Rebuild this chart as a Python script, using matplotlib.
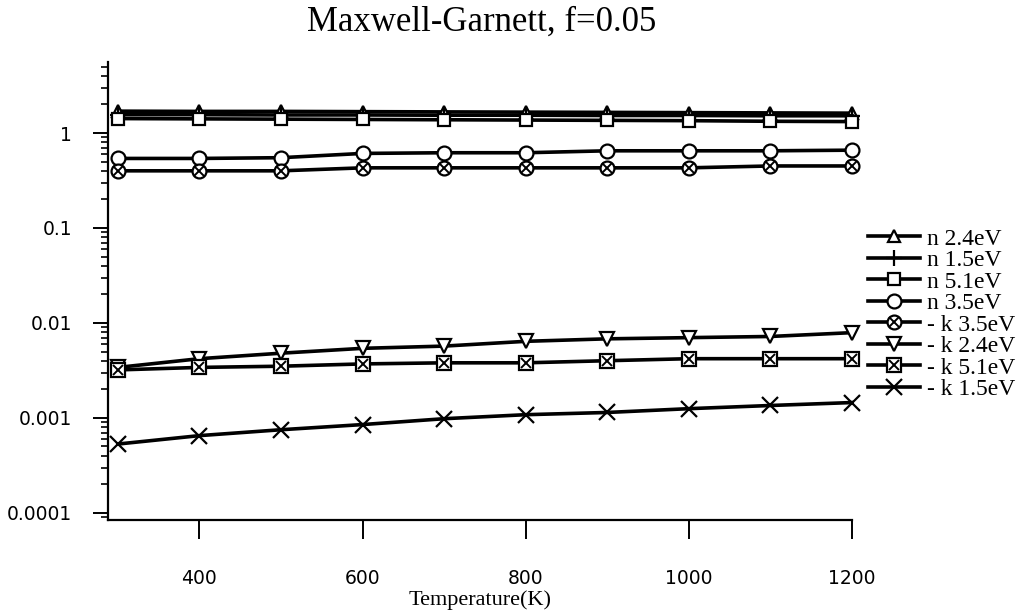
import numpy as np
import matplotlib
matplotlib.use("Agg")
import matplotlib.pyplot as plt
from matplotlib.ticker import FixedLocator, LogLocator, NullFormatter
from matplotlib.legend_handler import HandlerTuple

# --- données ---
T = [300, 400, 500, 600, 700, 800, 900, 1000, 1100, 1200]

n_24 = [1.70, 1.69, 1.69, 1.68, 1.67, 1.66, 1.65, 1.64, 1.63, 1.62]
n_15 = [1.56, 1.56, 1.55, 1.55, 1.54, 1.54, 1.53, 1.53, 1.52, 1.52]
n_51 = [1.42, 1.41, 1.40, 1.39, 1.38, 1.37, 1.36, 1.35, 1.33, 1.32]
n_35 = [0.54, 0.54, 0.55, 0.61, 0.62, 0.62, 0.65, 0.65, 0.65, 0.66]
k_35 = [0.40, 0.40, 0.40, 0.43, 0.43, 0.43, 0.43, 0.43, 0.45, 0.45]
k_24 = [0.0034, 0.0042, 0.0048, 0.0054, 0.0057, 0.0064, 0.0068, 0.0070, 0.0072, 0.0079]
k_51 = [0.0032, 0.0034, 0.0035, 0.0037, 0.0038, 0.0038, 0.0040, 0.0042, 0.0042, 0.0042]
k_15 = [0.00053, 0.00065, 0.00075, 0.00085, 0.00098, 0.00108, 0.00114, 0.00125, 0.00135, 0.00145]

labels = ["n 2.4eV", "n 1.5eV", "n 5.1eV", "n 3.5eV",
          "- k 3.5eV", "- k 2.4eV", "- k 5.1eV", "- k 1.5eV"]

fig = plt.figure(figsize=(10.31, 6.11), dpi=100)
ax = fig.add_axes([0.1048, 1 - 520 / 611, 0.7216, (520 - 62) / 611])

lw = 2.6
style = dict(color="black", lw=lw, mfc="white", mec="black", mew=1.6, clip_on=False)
xstyle = dict(ls="none", marker="x", ms=7, mec="black", mew=1.4, clip_on=False)

h1, = ax.plot(T, n_24, marker="^", ms=9, **style)
h2, = ax.plot(T, n_15, marker="+", ms=12, **style)
h3, = ax.plot(T, n_51, marker="s", ms=9, **style)
h4, = ax.plot(T, n_35, marker="o", ms=10, **style)
h5, = ax.plot(T, k_35, marker="o", ms=10, **style)
h5b, = ax.plot(T, k_35, **xstyle)
h6, = ax.plot(T, k_24, marker="v", ms=10, **style)
h7, = ax.plot(T, k_51, marker="s", ms=10, **style)
h7b, = ax.plot(T, k_51, **xstyle)
h8, = ax.plot(T, k_15, marker="x", ms=12, **style)

ax.set_yscale("log")
ax.set_xlim(288, 1200)
ax.set_ylim(8.4e-5, 5.6)

ax.spines["top"].set_visible(False)
ax.spines["right"].set_visible(False)
ax.spines["left"].set_linewidth(1.6)
ax.spines["bottom"].set_linewidth(1.6)

ax.xaxis.set_major_locator(FixedLocator([400, 600, 800, 1000, 1200]))
ax.yaxis.set_major_locator(FixedLocator([1e-4, 1e-3, 1e-2, 1e-1, 1]))
ax.yaxis.set_minor_locator(LogLocator(base=10, subs=np.arange(2, 10)))
ax.yaxis.set_minor_formatter(NullFormatter())
ax.set_yticklabels(["0.0001", "0.001", "0.01", "0.1", "1"])

ax.tick_params(axis="x", which="major", direction="out", length=14, width=1.4,
               labelsize=13.5, pad=21)
ax.tick_params(axis="y", which="major", direction="out", length=11, width=1.4,
               labelsize=13.5, pad=15)
ax.tick_params(axis="y", which="minor", direction="out", length=5, width=1.2)

fig.text(0.467, 1 - 22 / 611, "Maxwell-Garnett, f=0.05", family="Liberation Serif",
         fontsize=25, ha="center", va="center")
fig.text(480 / 1031, 1 - 600 / 611, "Temperature(K)", family="Liberation Serif",
         fontsize=16, ha="center", va="center")

handles = [h1, h2, h3, h4, (h5, h5b), h6, (h7, h7b), h8]
ax.legend(handles, labels, handler_map={tuple: HandlerTuple(ndivide=1, pad=0)},
          loc="upper left", bbox_to_anchor=(868 / 1031, 1 - 228 / 611),
          bbox_transform=fig.transFigure, frameon=False,
          prop={"family": "Liberation Serif", "size": 17},
          handlelength=2.2, handletextpad=0.3, labelspacing=0.0, borderpad=0,
          borderaxespad=0)

fig.savefig("out.png", dpi=100)
